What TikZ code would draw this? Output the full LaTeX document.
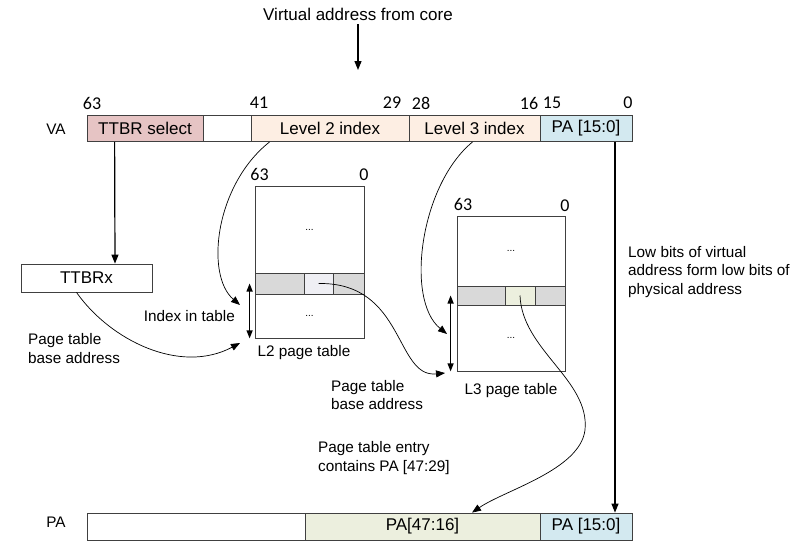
\documentclass[tikz,border=0pt]{standalone}
\usepackage{fontspec}
\setmainfont{Liberation Sans}
\newfontfamily\numfont{Carlito}
\usetikzlibrary{calc, positioning}
\usetikzlibrary{arrows.meta}
\definecolor{ttbrred}{RGB}{230,196,196}
\definecolor{idxpeach}{RGB}{253,238,227}
\definecolor{lowblue}{RGB}{211,233,240}
\definecolor{highgreen}{RGB}{236,239,222}
\definecolor{rowgray}{RGB}{217,217,217}
\definecolor{cellpale}{RGB}{239,239,244}
\definecolor{edgegray}{RGB}{64,64,64}

\begin{document}
\begin{tikzpicture}[x=1pt, y=-1pt,
  field/.style={draw=edgegray, line width=0.8pt, inner sep=0pt, font=\fontsize{17}{18}\selectfont},
  bitno/.style={font=\numfont\fontsize{18}{18}\selectfont, inner sep=0pt},
  txt/.style={font=\fontsize{15.3}{18.3}\selectfont, align=left, inner sep=0pt},
  arr/.style={-{Triangle[length=9pt,width=7pt]}, line width=1.2pt},
  curve/.style={-{Triangle[length=9pt,width=7pt]}, line width=0.7pt},
  both/.style={{Triangle[length=8pt,width=6pt]}-{Triangle[length=8pt,width=6pt]}, line width=1.2pt}]
\useasboundingbox (0,0) rectangle (795,547);

% virtual address
\node[txt, font=\fontsize{17}{18}\selectfont] (core) at (358,14) {Virtual address from core};
\coordinate (coreend) at (358,70);
\draw[arr] ([yshift=-4pt]core.south) -- (coreend);

\node[txt] (valbl) at (56,129) {VA};
\node[field, fill=ttbrred, minimum width=116pt, minimum height=26pt] (ttbrsel) at (145,128.5) {TTBR select};
\node[field, minimum width=48pt, minimum height=26pt] (vagap) at (227,128.5) {};
\node[field, fill=idxpeach, minimum width=158pt, minimum height=26pt] (lvltwo) at (330,128.5) {Level 2 index};
\node[field, fill=idxpeach, minimum width=131pt, minimum height=26pt] (lvlthree) at (474.5,128.5) {Level 3 index};
\node[field, fill=lowblue, minimum width=92pt, minimum height=26pt] (vapa) at (586,128.5) {PA [15:0]};

\node[bitno] (b63) at (92,103) {63};
\node[bitno] (b41) at (259,103) {41};
\node[bitno] (b29) at (392,103) {29};
\node[bitno] (b28) at (421,103) {28};
\node[bitno] (b16) at (529,103) {16};
\node[bitno] (b15) at (552,103) {15};
\node[bitno] (b0) at (628,103) {0};

% TTBRx
\node[field, minimum width=131pt, minimum height=28pt] (ttbrx) at (86.5,278) {TTBRx};
\draw[arr] ([xshift=28pt]ttbrsel.south west) -- ([xshift=28.5pt]ttbrx.north);

% L2 page table
\node[field, minimum width=109pt, minimum height=87pt] (ltwotop) at (309.5,229.5) {\fontsize{10}{10}\selectfont ...};
\node[field, fill=rowgray, minimum width=49pt, minimum height=21pt] (ltwoa) at (279.5,283.5) {};
\node[field, fill=cellpale, minimum width=29pt, minimum height=21pt] (ltwob) at (318.5,283.5) {};
\node[field, fill=rowgray, minimum width=31pt, minimum height=21pt] (ltwoc) at (348.5,283.5) {};
\node[field, minimum width=109pt, minimum height=44pt] (ltwobot) at (309.5,316) {\fontsize{10}{10}\selectfont ...};
\node[bitno] (ltwohi) at (259.5,174.5) {63};
\node[bitno] (ltwolo) at (364,174.5) {0};
\node[txt] (ltwolbl) at (304,353) {L2 page table};
\draw[both] ([xshift=-5pt]ltwoa.west) -- ([xshift=-5pt]ltwobot.south west);

% L3 page table
\node[field, minimum width=108pt, minimum height=70pt] (lthreetop) at (511,251) {\fontsize{10}{10}\selectfont ...};
\node[field, fill=rowgray, minimum width=48pt, minimum height=19pt] (lthreea) at (481,295.5) {};
\node[field, fill=highgreen, minimum width=30pt, minimum height=19pt] (lthreeb) at (520,295.5) {};
\node[field, fill=rowgray, minimum width=30pt, minimum height=19pt] (lthreec) at (550,295.5) {};
\node[field, minimum width=108pt, minimum height=66pt] (lthreebot) at (511,338) {\fontsize{10}{10}\selectfont ...};
\node[bitno] (lthreehi) at (463,204) {63};
\node[bitno] (lthreelo) at (565,206) {0};
\node[txt] (lthreelbl) at (511,391) {L3 page table};
\draw[both] ([xshift=-6pt]lthreea.west) -- ([xshift=-6pt]lthreebot.south west);

% labels
\node[txt, anchor=east] (idxlbl) at (235,316) {Index in table};
\node[txt, anchor=west] (baseone) at (28,348.5) {Page table\\base address};
\node[txt, anchor=west] (basetwo) at (331,395) {Page table\\base address};
\node[txt, anchor=west] (entrylbl) at (318,458) {Page table entry\\contains PA [47:29]};
\node[txt, anchor=west] (lowlbl) at (628,272) {Low bits of virtual\\address form low bits of\\physical address};

% physical address
\node[txt] (palbl) at (56,522) {PA};
\node[field, minimum width=218pt, minimum height=27pt] (pagap) at (196,526.5) {};
\node[field, fill=highgreen, minimum width=235pt, minimum height=27pt] (pahigh) at (422.5,526.5) {PA[47:16]};
\node[field, fill=lowblue, minimum width=92pt, minimum height=27pt] (palow) at (586,526.5) {PA [15:0]};

% connectors
\coordinate (idxtwo) at (240,305);
\coordinate (basetwoend) at (240,343);
\coordinate (idxthree) at (447,334);
\coordinate (basethreeend) at (445,373);
\draw[curve] ([xshift=19pt]lvltwo.south west) .. controls (215,185) and (205,275) .. (idxtwo);
\draw[curve] ([xshift=-10pt]ttbrx.south) .. controls (110,340) and (180,375) .. (basetwoend);
\draw[curve] (ltwob.center) .. controls (405,282) and (395,378) .. (basethreeend);
\draw[curve] ([xshift=64pt]lvlthree.south west) .. controls (420,185) and (405,300) .. (idxthree);
\draw[curve] (lthreeb.center) .. controls (522,350) and (590,380) .. (585,430)
  .. controls (580,470) and (505,490) .. ([xshift=49.5pt]pahigh.north);
\draw[arr] ([xshift=29pt]vapa.south) -- ([xshift=29pt]palow.north);
\end{tikzpicture}
\end{document}
